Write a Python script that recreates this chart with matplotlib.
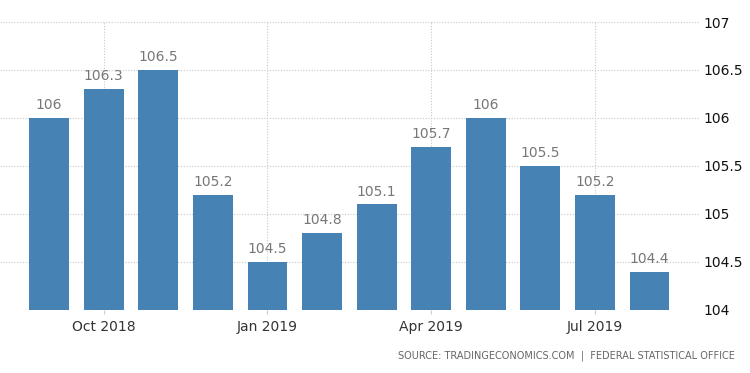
import matplotlib
matplotlib.use("Agg")
import matplotlib.pyplot as plt
import numpy as np

months = ['Sep 2018', 'Oct 2018', 'Nov 2018', 'Dec 2018', 'Jan 2019', 'Feb 2019',
          'Mar 2019', 'Apr 2019', 'May 2019', 'Jun 2019', 'Jul 2019', 'Aug 2019']
values = [106, 106.3, 106.5, 105.2, 104.5, 104.8, 105.1, 105.7, 106, 105.5, 105.2, 104.4]
tick_months = ['Oct 2018', 'Jan 2019', 'Apr 2019', 'Jul 2019']
y_ticks = [104, 104.5, 105, 105.5, 106, 106.5, 107]

fig = plt.figure(figsize=(7.5, 3.73), dpi=100)
ax = fig.add_axes([0.0, 0.169, 0.933, 0.772])

x = np.arange(len(months))
ax.bar(x, values, width=0.73, color='#4682b4', zorder=3)

for xi, v in zip(x, values):
    ax.text(xi, v + 0.06, f'{v:g}', ha='center', va='bottom', fontsize=10, color='#777777', zorder=4)

ax.set_xlim(-0.9, 11.92)
ax.set_ylim(104, 107)

ax.set_xticks([months.index(m) for m in tick_months])
ax.set_xticklabels(tick_months, fontsize=10, color='#333333')
ax.set_yticks(y_ticks)
ax.set_yticklabels([f'{t:g}' for t in y_ticks], fontsize=10, color='#111111')
ax.yaxis.tick_right()
ax.tick_params(axis='y', length=0, pad=3)
ax.tick_params(axis='x', length=3, color='#cccccc', pad=4)

ax.grid(True, axis='both', linestyle=(0, (1, 1.5)), color='#c8c8c8', linewidth=0.8, zorder=0)
for s in ax.spines.values():
    s.set_visible(False)

fig.text(0.98, 0.045, 'SOURCE: TRADINGECONOMICS.COM  |  FEDERAL STATISTICAL OFFICE',
         ha='right', va='center', fontsize=7, color='#666666')

fig.savefig('out.png', dpi=100)
